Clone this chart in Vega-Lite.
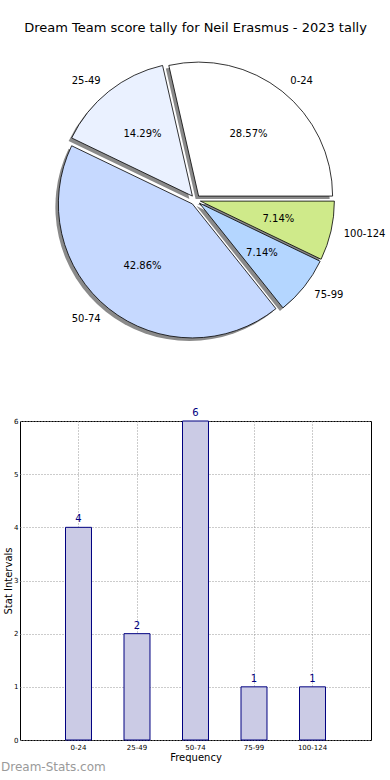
{
  "$schema": "https://vega.github.io/schema/vega-lite/v6.json",
  "padding": {"top": 22, "left": 0, "right": 0, "bottom": 0},
  "bounds": "flush",
  "spacing": 66,
  "config": {
    "font": "DejaVu Sans",
    "title": {"font": "DejaVu Sans", "fontWeight": "normal"}
  },
  "vconcat": [
    {
      "width": 351,
      "height": 310,
      "view": {"stroke": null},
      "title": {"text": "Dream Team score tally for Neil Erasmus - 2023 tally", "fontSize": 13, "anchor": "middle", "offset": 10, "color": "black"},
      "data": {"values": [
        {"label": "100-124", "count": 1, "pct": "7.14%", "k": 1},
        {"label": "75-99", "count": 1, "pct": "7.14%", "k": 2},
        {"label": "50-74", "count": 6, "pct": "42.86%", "k": 3},
        {"label": "25-49", "count": 2, "pct": "14.29%", "k": 4},
        {"label": "0-24", "count": 4, "pct": "28.57%", "k": 5}
      ]},
      "transform": [
        {"joinaggregate": [{"op": "sum", "field": "count", "as": "total"}]},
        {"window": [{"op": "sum", "field": "count", "as": "cum"}], "sort": [{"field": "k"}], "frame": [null, 0]},
        {"calculate": "PI/2 + (datum.cum - datum.count/2)/datum.total*2*PI", "as": "ang"},
        {"calculate": "5*sin(datum.ang)", "as": "dx"},
        {"calculate": "-5*cos(datum.ang)", "as": "dy"}
      ],
      "encoding": {
        "theta": {"field": "count", "type": "quantitative", "stack": true, "scale": {"range": [1.5707963, 7.8539816]}},
        "order": {"field": "k", "type": "quantitative"}
      },
      "layer": [
        {
          "mark": {"type": "arc", "outerRadius": 134, "fill": "#8a8a8a", "stroke": null,
                   "xOffset": {"expr": "datum.dx - 3"}, "yOffset": {"expr": "datum.dy + 3"}}
        },
        {
          "mark": {"type": "arc", "outerRadius": 134, "stroke": "black", "strokeWidth": 0.8,
                   "xOffset": {"expr": "datum.dx"}, "yOffset": {"expr": "datum.dy"}},
          "encoding": {
            "color": {"field": "label", "type": "nominal", "legend": null,
                      "scale": {"domain": ["0-24", "25-49", "50-74", "75-99", "100-124"],
                                "range": ["#ffffff", "#eaf1ff", "#c6d9ff", "#b4d6ff", "#cfea8a"]}}
          }
        },
        {
          "mark": {"type": "text", "radius": 80, "fontSize": 10, "color": "black",
                   "xOffset": {"expr": "datum.dx"}, "yOffset": {"expr": "datum.dy"}},
          "encoding": {"text": {"field": "pct"}}
        },
        {
          "mark": {"type": "text", "radius": 147, "fontSize": 10, "color": "black", "baseline": "middle",
                   "align": {"expr": "datum.dx > 0.01 ? 'left' : 'right'"},
                   "xOffset": {"expr": "datum.dx"}, "yOffset": {"expr": "datum.dy"}},
          "encoding": {"text": {"field": "label"}}
        }
      ]
    },
    {
      "width": 351,
      "height": 319,
      "view": {"stroke": "black", "strokeWidth": 1},
      "title": {"text": "Dream-Stats.com", "orient": "bottom", "anchor": "start", "frame": "group", "dx": -19, "offset": 0, "fontSize": 12, "color": "#9a9a9a"},
      "data": {"values": [
        {"label": "0-24", "count": 4},
        {"label": "25-49", "count": 2},
        {"label": "50-74", "count": 6},
        {"label": "75-99", "count": 1},
        {"label": "100-124", "count": 1}
      ]},
      "encoding": {
        "x": {"field": "label", "type": "nominal", "sort": null,
              "scale": {"paddingInner": 0.556, "paddingOuter": 0.778},
              "axis": {"title": "Frequency", "titleFontSize": 10, "titleFontWeight": "normal", "titlePadding": 2,
                       "labelAngle": 0, "labelFontSize": 7, "labelPadding": 3, "ticks": false, "domain": false,
                       "grid": true, "gridDash": [1, 2], "gridColor": "#999999", "labelColor": "black", "titleColor": "black"}},
        "y": {"field": "count", "type": "quantitative", "scale": {"domain": [0, 6], "nice": false},
              "axis": {"title": "Stat Intervals", "titleFontSize": 10, "titleFontWeight": "normal", "titlePadding": 0,
                       "values": [0, 1, 2, 3, 4, 5, 6], "format": "d", "labelFontSize": 7, "labelPadding": 2,
                       "ticks": false, "domain": false, "grid": true, "gridDash": [1, 2], "gridColor": "#999999",
                       "labelColor": "black", "titleColor": "black"}}
      },
      "layer": [
        {"mark": {"type": "bar", "fill": "#cbcbe5", "stroke": "#000080", "strokeWidth": 1}},
        {"mark": {"type": "text", "dy": -3, "baseline": "bottom", "fontSize": 10, "color": "#000080"},
         "encoding": {"text": {"field": "count", "type": "quantitative"}}}
      ]
    }
  ]
}
